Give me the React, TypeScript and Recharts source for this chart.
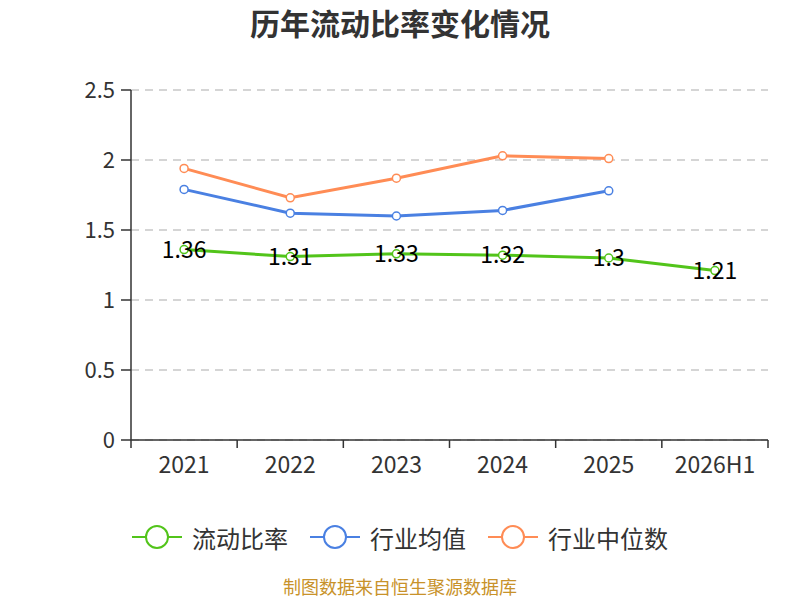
import React from 'react';
import { LineChart, Line, XAxis, YAxis, CartesianGrid, LabelList } from 'recharts';

const years = ['2021', '2022', '2023', '2024', '2025', '2026H1'];
const currentRatio = [1.36, 1.31, 1.33, 1.32, 1.3, 1.21];
const industryMean = [1.79, 1.62, 1.6, 1.64, 1.78, null];
const industryMedian = [1.94, 1.73, 1.87, 2.03, 2.01, null];
const yTicks = [0, 0.5, 1, 1.5, 2, 2.5];

const series = [
  { key: 'ratio', name: '流动比率', color: '#52c41a' },
  { key: 'mean', name: '行业均值', color: '#4a80e2' },
  { key: 'median', name: '行业中位数', color: '#ff8c55' },
];

const data = years.map((y, i) => ({
  year: y,
  ratio: currentRatio[i],
  mean: industryMean[i],
  median: industryMedian[i],
}));

const FONT = '"Noto Sans CJK SC", "Noto Sans", sans-serif';
const BAND = (768 - 131) / years.length;

const XTick = (props: any) => {
  const { x, y, payload, index } = props;
  const last = index === years.length - 1;
  const top = y - 8;
  return (
    <g>
      <line x1={x - BAND / 2} y1={top} x2={x - BAND / 2} y2={top + 8} stroke="#333" strokeWidth={1.5} />
      {last && <line x1={x + BAND / 2} y1={top} x2={x + BAND / 2} y2={top + 8} stroke="#333" strokeWidth={1.5} />}
      <text x={x} y={top + 33} textAnchor="middle" fill="#333" fontSize={23} fontFamily={FONT}>
        {payload.value}
      </text>
    </g>
  );
};

const PointLabel = (props: any) => {
  const { x, y, value } = props;
  return (
    <text x={x} y={y} dy="0.35em" textAnchor="middle" fill="#000" fontSize={23} fontFamily={FONT}>
      {value}
    </text>
  );
};

export default function App() {
  return (
    <div style={{ position: 'absolute', left: 0, top: 0, width: 800, height: 600, background: '#fff', fontFamily: FONT }}>
      <div style={{ position: 'absolute', top: 0, width: 800, textAlign: 'center', fontSize: 30, fontWeight: 'bold', color: '#333' }}>
        历年流动比率变化情况
      </div>
      <LineChart width={800} height={600} data={data} margin={{ top: 90, right: 32, bottom: 120, left: 0 }}>
        <CartesianGrid horizontal vertical={false} stroke="#c8c8c8" strokeDasharray="8 6" strokeWidth={1.5} />
        <XAxis
          dataKey="year"
          height={40}
          tickLine={false}
          stroke="#333"
          strokeWidth={1.5}
          tick={<XTick />}
          interval={0}
          padding={{ left: BAND / 2, right: BAND / 2 }}
        />
        <YAxis
          width={131}
          domain={[0, 2.5]}
          ticks={yTicks}
          stroke="#333"
          strokeWidth={1.5}
          tickSize={10}
          tickMargin={6}
          tick={{ fill: '#333', fontSize: 22, fontFamily: FONT }}
        />
        {series.map(s => (
          <Line
            key={s.key}
            dataKey={s.key}
            name={s.name}
            stroke={s.color}
            strokeWidth={3}
            dot={{ r: 4, fill: '#fff', stroke: s.color, strokeWidth: 1.5 }}
            isAnimationActive={false}
          >
            {s.key === 'ratio' && <LabelList dataKey="ratio" content={<PointLabel />} />}
          </Line>
        ))}
      </LineChart>
      <div style={{ position: 'absolute', top: 520, left: 0, width: 800, height: 34, display: 'flex', justifyContent: 'center', fontSize: 24, color: '#333' }}>
        {series.map((s, i) => (
          <div key={s.key} style={{ display: 'flex', alignItems: 'center', marginLeft: i === 0 ? 0 : 22 }}>
            <svg width={50} height={34} style={{ marginRight: 10 }}>
              <line x1={0} y1={17} x2={50} y2={17} stroke={s.color} strokeWidth={2} />
              <circle cx={25} cy={17} r={11} fill="#fff" stroke={s.color} strokeWidth={2} />
            </svg>
            <span>{s.name}</span>
          </div>
        ))}
      </div>
      <div style={{ position: 'absolute', top: 573, width: 800, lineHeight: '26px', textAlign: 'center', fontSize: 18, color: '#c8922a' }}>
        制图数据来自恒生聚源数据库
      </div>
    </div>
  );
}
